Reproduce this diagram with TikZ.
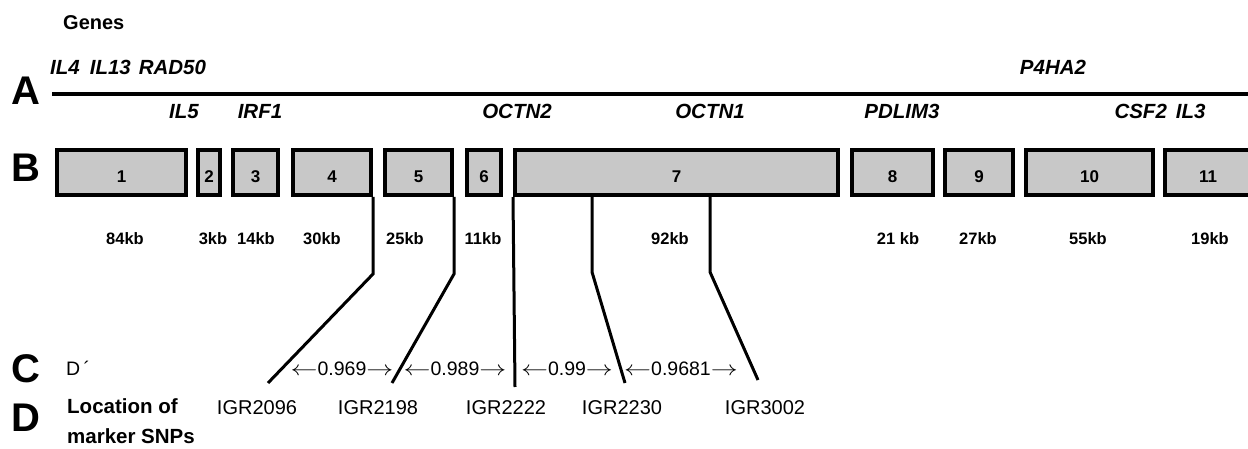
\documentclass[tikz,border=0pt]{standalone}
\usepackage{fontspec}
\setmainfont{Liberation Sans}
\definecolor{boxgray}{RGB}{200,200,200}
\newcommand{\larr}{\scalebox{1.3}[1]{$\leftarrow$}}
\newcommand{\rarr}{\scalebox{1.3}[1]{$\rightarrow$}}
\begin{document}
\begin{tikzpicture}[x=1pt,y=-1pt,
  big/.style={font=\fontsize{40}{40}\selectfont\bfseries, inner sep=0, anchor=base west},
  gene/.style={font=\fontsize{20.5}{21}\selectfont\bfseries\itshape, inner sep=0, anchor=base},
  gbox/.style={draw, line width=4pt, fill=boxgray, minimum height=45, inner sep=0,
    text height=21, text depth=0, font=\fontsize{17}{17}\selectfont\bfseries},
  kb/.style={font=\fontsize{16.5}{16.5}\selectfont\bfseries, inner sep=0, anchor=base},
  lab/.style={font=\fontsize{20}{20}\selectfont, inner sep=0, anchor=base},
  blab/.style={font=\fontsize{20.5}{20.5}\selectfont\bfseries, inner sep=0, anchor=base west},
  dval/.style={font=\fontsize{19.5}{19.5}\selectfont, inner sep=0, anchor=base},
  conn/.style={line width=3pt, line join=miter},
  chrom/.style={line width=4pt}
]
\useasboundingbox (0,0) rectangle (1248,449);
\clip (0,0) rectangle (1248,449);

% headings and panel letters
\node[blab, font=\fontsize{20}{20}\selectfont\bfseries] (genes) at (63,29.5) {Genes};
\node[big] (A) at (11,105) {A};
\node[big] (B) at (11,182) {B};
\node[big] (C) at (11,382) {C};
\node[big] (D) at (11,431) {D};

% chromosome line (A)
\coordinate (chrL) at (52,94);
\coordinate (chrR) at (1248,94);
\draw[chrom] (chrL) -- (chrR);

% gene names
\node[gene, anchor=base west] (g1) at (50,75) {IL4\hspace{10pt}IL13\hspace{8pt}RAD50};
\node[gene] (g2) at (1053,75) {P4HA2};
\node[gene] (g3) at (184,119) {IL5};
\node[gene] (g4) at (260,119) {IRF1};
\node[gene] (g5) at (517,119) {OCTN2};
\node[gene] (g6) at (710,119) {OCTN1};
\node[gene] (g7) at (902,119) {PDLIM3};
\node[gene] (g8) at (1160,119) {CSF2\hspace{9pt}IL3};

% boxes (B)
\node[gbox, minimum width=129] (b1) at (121.5,172.5) {1};
\node[gbox, minimum width=22]  (b2) at (209,172.5) {2};
\node[gbox, minimum width=45]  (b3) at (255.5,172.5) {3};
\node[gbox, minimum width=78]  (b4) at (332,172.5) {4};
\node[gbox, minimum width=67]  (b5) at (418.5,172.5) {5};
\node[gbox, minimum width=34]  (b6) at (484,172.5) {6};
\node[gbox, minimum width=323] (b7) at (676.5,172.5) {7};
\node[gbox, minimum width=81]  (b8) at (892.5,172.5) {8};
\node[gbox, minimum width=68]  (b9) at (979,172.5) {9};
\node[gbox, minimum width=127] (b10) at (1089.5,172.5) {10};
\node[gbox, minimum width=86]  (b11) at (1208,172.5) {11};

% sizes
\node[kb] (k1) at (125,244) {84kb};
\node[kb] (k2) at (213,244) {3kb};
\node[kb] (k3) at (256,244) {14kb};
\node[kb] (k4) at (322,244) {30kb};
\node[kb] (k5) at (405,244) {25kb};
\node[kb] (k6) at (483,244) {11kb};
\node[kb] (k7) at (670,244) {92kb};
\node[kb] (k8) at (898,244) {21 kb};
\node[kb] (k9) at (978,244) {27kb};
\node[kb] (k10) at (1088,244) {55kb};
\node[kb] (k11) at (1210,244) {19kb};

% row C
\node[dval, anchor=base west] (dp) at (66,375) {D\,´};
\node[dval] (d1) at (342,375) {\larr0.969\rarr};
\node[dval] (d2) at (455,375) {\larr0.989\rarr};
\node[dval] (d3) at (567,375) {\larr0.99\rarr};
\node[dval] (d4) at (681,375) {\larr0.9681\rarr};

% row D
\node[blab] (loc) at (67,413) {Location of};
\node[blab] (mk) at (67,443) {marker SNPs};
\node[lab] (s1) at (257,414) {IGR2096};
\node[lab] (s2) at (378,414) {IGR2198};
\node[lab] (s3) at (506,414) {IGR2222};
\node[lab] (s4) at (622,414) {IGR2230};
\node[lab] (s5) at (765,414) {IGR3002};

% connectors
\coordinate (e1) at (268,383);
\coordinate (e2) at (392,383);
\coordinate (e3) at (515,387);
\coordinate (e4) at (625,383);
\coordinate (e5) at (758,380);
\draw[conn] (b4.south east) -- ++(0,77) -- (e1);
\draw[conn] (b5.south east) -- ++(0,77) -- (e2);
\draw[conn] (b7.south west) -- (e3);
\draw[conn] ([xshift=79pt]b7.south west) -- ++(0,75) -- (e4);
\draw[conn] ([xshift=197pt]b7.south west) -- ++(0,75) -- (e5);
\end{tikzpicture}
\end{document}
